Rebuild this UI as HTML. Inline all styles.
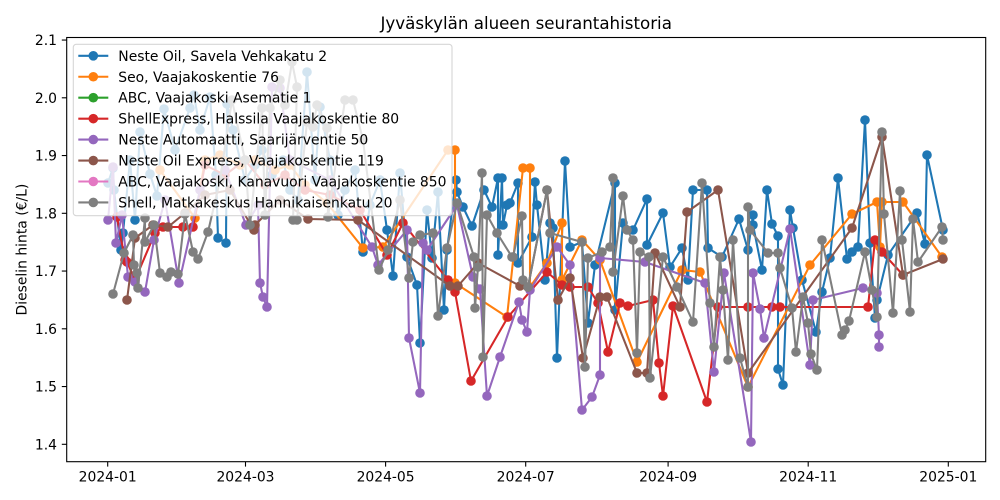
<!DOCTYPE html>
<html><head><meta charset="utf-8"><style>
html,body{margin:0;padding:0;background:#fff;}
svg{display:block;font-family:"DejaVu Sans","Liberation Sans",sans-serif;}
</style></head><body>
<svg width="1000" height="500" viewBox="0 0 1000 500" xmlns="http://www.w3.org/2000/svg">
<defs>
<clipPath id="ax"><rect x="66.7" y="37.5" width="919" height="424.2"/></clipPath>
<marker id="m0" markerWidth="12" markerHeight="12" refX="6" refY="6" markerUnits="userSpaceOnUse"><circle cx="6" cy="6" r="4.8" fill="#1f77b4"/></marker>
<marker id="m1" markerWidth="12" markerHeight="12" refX="6" refY="6" markerUnits="userSpaceOnUse"><circle cx="6" cy="6" r="4.8" fill="#ff7f0e"/></marker>
<marker id="m3" markerWidth="12" markerHeight="12" refX="6" refY="6" markerUnits="userSpaceOnUse"><circle cx="6" cy="6" r="4.8" fill="#d62728"/></marker>
<marker id="m4" markerWidth="12" markerHeight="12" refX="6" refY="6" markerUnits="userSpaceOnUse"><circle cx="6" cy="6" r="4.8" fill="#9467bd"/></marker>
<marker id="m5" markerWidth="12" markerHeight="12" refX="6" refY="6" markerUnits="userSpaceOnUse"><circle cx="6" cy="6" r="4.8" fill="#8c564b"/></marker>
<marker id="m7" markerWidth="12" markerHeight="12" refX="6" refY="6" markerUnits="userSpaceOnUse"><circle cx="6" cy="6" r="4.8" fill="#7f7f7f"/></marker>
</defs>

<text x="526.2" y="29" font-size="16.7" text-anchor="middle" fill="#000">Jyväskylän alueen seurantahistoria</text>

<g clip-path="url(#ax)" fill="none" stroke-width="2.08" stroke-linejoin="round">
<polyline stroke="#1f77b4" marker-start="url(#m0)" marker-mid="url(#m0)" marker-end="url(#m0)" points="108,183 113,168 114,190 121,250 123,233 130,160 135,220 140,132 150,174 157,196 164,109 175,150 190,108 194,95 200,130 210,97 216,175 218,238 226,243 227,104 233,130 245,180 255,165 262,150 272,175 283,160 290,190 298,200 307,72 315,180 320,107 330,160 338,215 345,190 355,170 363,252 370,205 380,180 387,230 393,276 400,173 407,257 417,285 420,343 427,210 432,258 438,192 444,310 447,250 456,180 457,192 463,207 472,226 484,190 492,207 498,178 498,255 502,178 503,225 507,205 510,203 518,183 518,263 532,237 535,182 537,205 545,280 550,223 553,228 557,358 565,161 570,247 582,242 588,323 595,265 615,183 615,310 623,223 633,230 647,199 647,245 663,213 670,267 682,248 688,280 693,190 707,190 708,248 722,257 739,219 748,250 753,215 753,225 762,270 767,190 772,224 778,236 778,369 783,385 790,210 793,228 802,280 816,332 822,292 830,258 838,178 847,259 852,252 858,247 865,120 870,243 875,318 877,300 888,255 917,213 925,244 927,155 943,230"/>
<polyline stroke="#ff7f0e" marker-start="url(#m1)" marker-mid="url(#m1)" marker-end="url(#m1)" points="160,170 195,218 205,160 220,155 240,165 255,160 275,170 290,165 305,185 327,203 363,248 383,247 448,150 455,150 455,283 507,317 523,168 530,168 530,287 547,263 562,223 562,280 582,240 600,260 637,362 682,270 700,272 748,387 810,265 852,214 877,202 880,247 882,202 903,202 942,257"/>
<polyline stroke="#d62728" marker-start="url(#m3)" marker-mid="url(#m3)" marker-end="url(#m3)" points="117,217 125,260 127,262 135,280 155,233 163,227 183,227 193,227 205,165 225,175 245,160 265,185 285,175 305,190 330,195 360,210 387,255 403,223 448,280 455,292 471,381 508,317 547,272 562,285 570,287 588,287 598,303 608,352 620,303 628,306 653,300 659,363 663,396 673,306 707,402 718,307 748,307 772,307 780,307 868,307 875,240 882,252 903,275"/>
<polyline stroke="#9467bd" marker-start="url(#m4)" marker-mid="url(#m4)" marker-end="url(#m4)" points="108,220 113,167 116,243 122,215 128,277 135,282 145,292 154,240 165,200 179,283 200,190 225,170 246,225 258,205 260,283 263,297 267,307 272,87 280,88 290,160 330,180 372,247 378,265 407,230 409,338 420,393 423,243 427,250 457,205 473,277 480,289 487,396 500,357 519,302 522,320 527,332 530,290 557,247 570,265 582,410 592,397 600,375 600,258 645,262 705,283 714,372 724,273 751,442 753,273 760,309 764,338 790,229 810,365 813,300 863,288 877,293 879,335 879,347"/>
<polyline stroke="#8c564b" marker-start="url(#m5)" marker-mid="url(#m5)" marker-end="url(#m5)" points="127,300 135,238 153,225 168,227 185,213 205,195 230,190 254,230 255,225 280,200 308,219 358,220 450,286 458,286 478,263 520,286 528,287 547,190 558,300 570,278 583,358 600,297 607,297 637,373 647,373 655,253 680,307 687,212 718,190 748,373 852,228 882,137 903,275 943,259"/>
<polyline stroke="#7f7f7f" marker-start="url(#m7)" marker-mid="url(#m7)" marker-end="url(#m7)" points="113,294 124,253 133,235 134,265 137,273 138,288 145,218 145,242 154,225 160,273 167,277 171,272 178,274 185,214 193,252 198,259 208,232 220,180 232,100 245,160 250,225 262,108 265,215 270,108 280,80 285,105 292,62 297,87 293,220 297,220 307,122 313,127 317,105 327,128 328,217 345,100 353,100 363,140 379,270 388,250 400,200 409,278 413,242 420,235 433,233 438,316 447,248 457,203 474,257 475,308 478,267 482,173 483,357 487,215 497,233 512,257 513,257 522,216 523,280 528,287 547,190 550,233 582,242 585,367 588,258 602,252 610,247 613,178 613,272 623,196 627,230 633,240 637,353 640,252 649,257 650,378 663,257 677,287 693,322 702,183 710,303 714,347 720,257 723,290 728,360 733,240 740,358 748,387 748,207 750,230 768,253 778,253 780,268 792,308 796,352 803,297 808,323 811,354 817,370 822,240 842,335 845,330 849,321 865,252 872,290 877,317 882,132 884,214 893,313 900,191 902,240 910,312 913,219 918,262 942,227 943,240"/>
</g>

<!-- axes frame -->
<rect x="66.7" y="37.5" width="919" height="424.2" fill="none" stroke="#000" stroke-width="1.1"/>

<!-- y ticks -->
<g stroke="#000" stroke-width="1.1">
<line x1="61.8" y1="444.3" x2="66.7" y2="444.3"/>
<line x1="61.8" y1="386.55" x2="66.7" y2="386.55"/>
<line x1="61.8" y1="328.8" x2="66.7" y2="328.8"/>
<line x1="61.8" y1="271.05" x2="66.7" y2="271.05"/>
<line x1="61.8" y1="213.3" x2="66.7" y2="213.3"/>
<line x1="61.8" y1="155.55" x2="66.7" y2="155.55"/>
<line x1="61.8" y1="97.8" x2="66.7" y2="97.8"/>
<line x1="61.8" y1="40.05" x2="66.7" y2="40.05"/>
</g>
<g font-size="13.9" text-anchor="end" fill="#000">
<text x="57" y="449.3">1.4</text>
<text x="57" y="391.6">1.5</text>
<text x="57" y="333.8">1.6</text>
<text x="57" y="276.1">1.7</text>
<text x="57" y="218.3">1.8</text>
<text x="57" y="160.6">1.9</text>
<text x="57" y="102.8">2.0</text>
<text x="57" y="45.1">2.1</text>
</g>

<!-- x ticks -->
<g stroke="#000" stroke-width="1.1">
<line x1="107.7" y1="461.7" x2="107.7" y2="466.6"/>
<line x1="245.5" y1="461.7" x2="245.5" y2="466.6"/>
<line x1="385.6" y1="461.7" x2="385.6" y2="466.6"/>
<line x1="525.7" y1="461.7" x2="525.7" y2="466.6"/>
<line x1="668.1" y1="461.7" x2="668.1" y2="466.6"/>
<line x1="808.2" y1="461.7" x2="808.2" y2="466.6"/>
<line x1="948.3" y1="461.7" x2="948.3" y2="466.6"/>
</g>
<g font-size="13.9" text-anchor="middle" fill="#000">
<text x="107.7" y="481.5">2024-01</text>
<text x="245.5" y="481.5">2024-03</text>
<text x="385.6" y="481.5">2024-05</text>
<text x="525.7" y="481.5">2024-07</text>
<text x="668.1" y="481.5">2024-09</text>
<text x="808.2" y="481.5">2024-11</text>
<text x="948.3" y="481.5">2025-01</text>
</g>

<text transform="translate(26.5,249.6) rotate(-90)" font-size="13.9" text-anchor="middle" fill="#000">Dieselin hinta (€/L)</text>

<!-- legend -->
<rect x="73.3" y="44.3" width="378.7" height="171.4" rx="3" ry="3" fill="#fff" fill-opacity="0.8" stroke="#cccccc" stroke-opacity="0.8" stroke-width="1.1"/>
<g stroke-width="2.08">
<line x1="78.3" y1="55.8" x2="108.3" y2="55.8" stroke="#1f77b4"/><circle cx="93.3" cy="55.8" r="4.8" fill="#1f77b4"/>
<line x1="78.3" y1="76.75" x2="108.3" y2="76.75" stroke="#ff7f0e"/><circle cx="93.3" cy="76.75" r="4.8" fill="#ff7f0e"/>
<line x1="78.3" y1="97.7" x2="108.3" y2="97.7" stroke="#2ca02c"/><circle cx="93.3" cy="97.7" r="4.8" fill="#2ca02c"/>
<line x1="78.3" y1="118.65" x2="108.3" y2="118.65" stroke="#d62728"/><circle cx="93.3" cy="118.65" r="4.8" fill="#d62728"/>
<line x1="78.3" y1="139.6" x2="108.3" y2="139.6" stroke="#9467bd"/><circle cx="93.3" cy="139.6" r="4.8" fill="#9467bd"/>
<line x1="78.3" y1="160.55" x2="108.3" y2="160.55" stroke="#8c564b"/><circle cx="93.3" cy="160.55" r="4.8" fill="#8c564b"/>
<line x1="78.3" y1="181.5" x2="108.3" y2="181.5" stroke="#e377c2"/><circle cx="93.3" cy="181.5" r="4.8" fill="#e377c2"/>
<line x1="78.3" y1="202.45" x2="108.3" y2="202.45" stroke="#7f7f7f"/><circle cx="93.3" cy="202.45" r="4.8" fill="#7f7f7f"/>
</g>
<g font-size="13.9" fill="#000">
<text x="118.3" y="60.8">Neste Oil, Savela Vehkakatu 2</text>
<text x="118.3" y="81.75">Seo, Vaajakoskentie 76</text>
<text x="118.3" y="102.7">ABC, Vaajakoski Asematie 1</text>
<text x="118.3" y="123.65">ShellExpress, Halssila Vaajakoskentie 80</text>
<text x="118.3" y="144.6">Neste Automaatti, Saarijärventie 50</text>
<text x="118.3" y="165.55">Neste Oil Express, Vaajakoskentie 119</text>
<text x="118.3" y="186.5">ABC, Vaajakoski, Kanavuori Vaajakoskentie 850</text>
<text x="118.3" y="207.45">Shell, Matkakeskus Hannikaisenkatu 20</text>
</g>
</svg>
</body></html>
